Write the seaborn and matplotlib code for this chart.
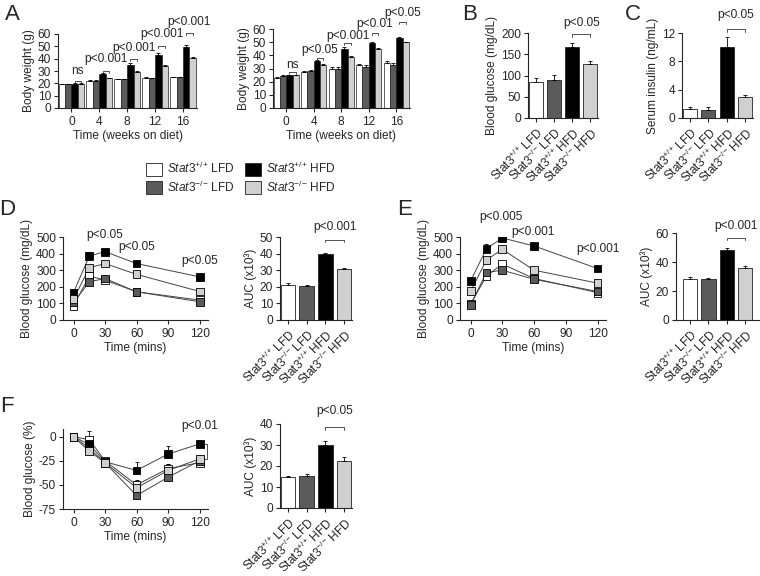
import numpy as np
import pandas as pd
import matplotlib
matplotlib.use('Agg')
import matplotlib.pyplot as plt
from matplotlib.patches import Patch
import seaborn as sns

# groups / colours
groups = ['LFD_wt', 'LFD_ko', 'HFD_wt', 'HFD_ko']
colors = ['white', '#5b5b5b', 'black', '#d0d0d0']
tick_labels = [r'Stat3$^{+/{+}}$ LFD', r'Stat3$^{-/{-}}$ LFD',
               r'Stat3$^{+/{+}}$ HFD', r'Stat3$^{-/{-}}$ HFD']
legend_labels = [r'$\mathit{Stat3}^{+/{+}}$ LFD', r'$\mathit{Stat3}^{-/{-}}$ LFD',
                 r'$\mathit{Stat3}^{+/{+}}$ HFD', r'$\mathit{Stat3}^{-/{-}}$ HFD']

# A: body weight (left and right)
weeks = [0, 4, 8, 12, 16]
a1_vals = [[19.5, 22.0, 23.5, 24.5, 25.0],
           [19.3, 22.0, 23.3, 24.0, 24.8],
           [19.8, 27.5, 35.0, 43.0, 49.5],
           [19.6, 24.0, 29.0, 34.0, 40.5]]
a1_errs = [[0.3, 0.4, 0.3, 0.4, 0.4],
           [0.3, 0.3, 0.3, 0.3, 0.3],
           [0.4, 0.8, 1.3, 1.2, 1.5],
           [0.3, 0.5, 0.6, 0.7, 0.7]]
a1_pvals = ['ns', 'p<0.001', 'p<0.001', 'p<0.001', 'p<0.001']
a1_bracket = [22, 30, 40, 50, 61]
a1_text = [30, 40, 49, 60, 70]

a2_vals = [[23.0, 27.0, 30.0, 32.5, 34.0],
           [24.5, 28.0, 30.0, 31.5, 33.0],
           [24.8, 36.0, 45.0, 49.5, 53.5],
           [25.0, 33.0, 38.5, 45.0, 50.0]]
a2_errs = [[0.5, 1.2, 1.2, 1.2, 1.5],
           [0.5, 1.0, 1.0, 1.0, 1.0],
           [0.5, 0.7, 1.2, 1.0, 0.6],
           [0.4, 0.5, 0.7, 0.5, 0.4]]
a2_pvals = ['ns', 'p<0.05', 'p<0.001', 'p<0.01', 'p<0.05']
a2_bracket = [27, 38, 49, 57, 65]
a2_text = [33, 44, 55, 64, 72.5]

# B, C
b_vals = [85, 90, 168, 126]
b_errs = [10, 12, 8, 7]
c_vals = [1.3, 1.2, 10.0, 3.0]
c_errs = [0.2, 0.3, 1.5, 0.3]

# D: GTT
times = [0, 15, 30, 60, 120]
d_vals = [[85, 265, 240, 170, 120],
          [105, 230, 250, 170, 110],
          [165, 385, 412, 340, 260],
          [125, 315, 340, 275, 172]]
d_errs = [[8, 15, 10, 10, 8], [8, 10, 10, 8, 6],
          [15, 25, 12, 12, 12], [10, 15, 12, 12, 10]]
d_auc = [21, 20.5, 39.5, 31]
d_auc_err = [1.2, 0.8, 1.0, 0.4]

# E: GTT
e_vals = [[95, 265, 337, 250, 165],
          [92, 286, 300, 245, 172],
          [235, 430, 494, 446, 310],
          [173, 361, 426, 300, 222]]
e_errs = [[8, 12, 12, 10, 8], [8, 12, 10, 8, 8],
          [12, 25, 12, 10, 15], [10, 15, 12, 10, 10]]
e_auc = [28.5, 28, 48.5, 36]
e_auc_err = [1.0, 1.2, 1.0, 1.5]

# F: ITT
f_times = [0, 15, 30, 60, 90, 120]
f_vals = [[0, -3, -25, -50, -33, -27],
          [0, -12, -27, -61, -42, -25],
          [0, -8, -26, -35, -18, -7.5],
          [0, -15, -27, -53, -35, -23]]
f_errs = [[0, 9, 2, 4, 5, 4],
          [0, 2, 2, 3, 3, 3],
          [0, 2, 2, 9, 8, 1],
          [0, 3, 3, 8, 7, 4]]
f_auc = [15, 15.3, 30, 22.5]
f_auc_err = [0.3, 0.7, 2.0, 2.0]

FS = 8.6

sns.set_theme(style='ticks')
plt.rcParams['font.family'] = ['Liberation Sans', 'DejaVu Sans']
plt.rcParams['mathtext.fontset'] = 'custom'
plt.rcParams['mathtext.rm'] = 'Liberation Sans'
plt.rcParams['mathtext.it'] = 'Liberation Sans:italic'
plt.rcParams['axes.unicode_minus'] = False
plt.rcParams['font.size'] = FS
plt.rcParams['axes.labelsize'] = FS
plt.rcParams['xtick.labelsize'] = FS
plt.rcParams['ytick.labelsize'] = FS
plt.rcParams['axes.linewidth'] = 0.8
plt.rcParams['xtick.major.width'] = 0.8
plt.rcParams['ytick.major.width'] = 0.8
plt.rcParams['xtick.major.size'] = 3
plt.rcParams['ytick.major.size'] = 3
plt.rcParams['xtick.major.pad'] = 2.5
plt.rcParams['ytick.major.pad'] = 2
plt.rcParams['axes.labelpad'] = 2

W, H = 760, 576
fig = plt.figure(figsize=(W / 100, H / 100), dpi=100)


def box(l, t, r, b):
    return fig.add_axes([l / W, 1 - b / H, (r - l) / W, (b - t) / H])


def up_err(ax, xs, ys, e):
    ax.errorbar(xs, ys, yerr=[np.zeros(len(e)), e], fmt='none', ecolor='black',
                elinewidth=0.6, capsize=1.6, capthick=0.6, zorder=2)


def bracket(ax, x1, x2, y, leg, ty, txt):
    ax.plot([x1, x1, x2, x2], [y - leg, y, y, y - leg], color='#333333', lw=0.6, clip_on=False)
    ax.text((x1 + x2) / 2, ty, txt, ha='center', va='center', fontsize=FS, clip_on=False)


def grouped(ax, vals, errs, pvals, by, ty):
    rows = []
    for g, v in zip(groups, vals):
        for w, y in zip(weeks, v):
            rows.append((str(w), g, y))
    df = pd.DataFrame(rows, columns=['week', 'group', 'value'])
    sns.barplot(data=df, x='week', y='value', hue='group', hue_order=groups, palette=colors,
                width=0.92, edgecolor='#222222', linewidth=0.5, errorbar=None, legend=False, ax=ax)
    for cont, e in zip(ax.containers, errs):
        xs = [p.get_x() + p.get_width() / 2 for p in cont]
        ys = [p.get_height() for p in cont]
        up_err(ax, xs, ys, e)
    for i, txt in enumerate(pvals):
        p3 = ax.containers[2][i]
        p4 = ax.containers[3][i]
        bracket(ax, p3.get_x() + p3.get_width() / 2, p4.get_x() + p4.get_width() / 2,
                by[i], 1.5, ty[i], txt)
    ax.set_ylim(0, 60)
    ax.set_yticks(range(0, 61, 10))
    ax.set_xlim(-0.48, 4.5)
    ax.set_xlabel('Time (weeks on diet)')
    ax.set_ylabel('Body weight (g)')
    sns.despine(ax=ax)


def four(ax, vals, errs, ylim, yticks, ylabel, by, leg, ty, txt, xlim=(-0.42, 3.42)):
    df = pd.DataFrame({'group': groups, 'value': vals})
    sns.barplot(data=df, x='group', y='value', hue='group', order=groups, hue_order=groups,
                palette=colors, width=0.78, edgecolor='#222222', linewidth=0.6,
                errorbar=None, legend=False, ax=ax)
    bars = [c[0] for c in ax.containers]
    xs = [p.get_x() + p.get_width() / 2 for p in bars]
    up_err(ax, xs, [p.get_height() for p in bars], errs)
    bracket(ax, xs[2], xs[3], by, leg, ty, txt)
    ax.set_ylim(*ylim)
    ax.set_yticks(yticks)
    ax.set_xlim(*xlim)
    ax.set_xticks(range(4))
    ax.set_xticklabels(tick_labels, rotation=45, ha='right', rotation_mode='anchor')
    ax.set_xlabel('')
    ax.set_ylabel(ylabel)
    sns.despine(ax=ax)


def curve(ax, tt, vals, errs, ylim, yticks, ylabel):
    rows = []
    for g, v in zip(groups, vals):
        for t, y in zip(tt, v):
            rows.append((t, g, y))
    df = pd.DataFrame(rows, columns=['time', 'group', 'value'])
    for v, e in zip(vals, errs):
        up_err(ax, tt, v, e)
    sns.lineplot(data=df, x='time', y='value', units='group', estimator=None,
                 color='#444444', lw=0.7, ax=ax)
    sns.scatterplot(data=df, x='time', y='value', hue='group', hue_order=groups, palette=colors,
                    marker='s', s=32, edgecolor='black', linewidth=0.6, legend=False,
                    zorder=3, ax=ax)
    ax.set_xlim(-10, 128)
    ax.set_xticks([0, 30, 60, 90, 120])
    ax.set_ylim(*ylim)
    ax.set_yticks(yticks)
    ax.set_xlabel('Time (mins)')
    ax.set_ylabel(ylabel)
    sns.despine(ax=ax)


# Panel A
ax = box(58, 34, 197, 108)
grouped(ax, a1_vals, a1_errs, a1_pvals, a1_bracket, a1_text)
ax = box(273, 29, 410, 108)
grouped(ax, a2_vals, a2_errs, a2_pvals, a2_bracket, a2_text)

# Panel B, C
ax = box(528, 33, 598, 118)
four(ax, b_vals, b_errs, (0, 200), range(0, 201, 50), 'Blood glucose (mg/dL)',
     197, 6, 224, 'p<0.05')
ax = box(682, 33, 753, 118)
four(ax, c_vals, c_errs, (0, 12), [0, 4, 8, 12], 'Serum insulin (ng/mL)',
     12.6, 0.4, 14.6, 'p<0.05')

# Panel D
ax = box(63, 237, 208, 320)
curve(ax, times, d_vals, d_errs, (0, 500), range(0, 501, 100), 'Blood glucose (mg/dL)')
for x, y in zip([30, 60, 120], [515, 442, 357]):
    ax.text(x, y, 'p<0.05', ha='center', va='center', fontsize=FS, clip_on=False)
ax = box(280, 237, 352, 320)
four(ax, d_auc, d_auc_err, (0, 50), range(0, 51, 10), 'AUC (x10³)',
     48, 1.2, 56, 'p<0.001')

# Panel E
ax = box(460, 237, 606, 320)
curve(ax, times, e_vals, e_errs, (0, 500), range(0, 501, 100), 'Blood glucose (mg/dL)')
for x, y, s in zip([29, 59, 120], [618, 533, 430], ['p<0.005', 'p<0.001', 'p<0.001']):
    ax.text(x, y, s, ha='center', va='center', fontsize=FS, clip_on=False)
ax = box(676, 233, 760, 320)
four(ax, e_auc, e_auc_err, (0, 60), [0, 20, 40, 60], 'AUC (x10³)',
     56.5, 1.5, 65, 'p<0.001', xlim=(-0.77, 3.82))

# Panel F
ax = box(63, 429, 208, 509)
curve(ax, f_times, f_vals, f_errs, (-75, 8), [0, -25, -50, -75], 'Blood glucose (%)')
ax.plot([124, 127, 127, 124], [f_vals[2][-1], f_vals[2][-1], f_vals[3][-1], f_vals[3][-1]],
        color='#333333', lw=0.6, clip_on=False)
ax.text(120, 11, 'p<0.01', ha='center', va='center', fontsize=FS, clip_on=False)
ax = box(280, 424, 352, 508)
four(ax, f_auc, f_auc_err, (0, 40), range(0, 41, 10), 'AUC (x10³)',
     38.5, 1.2, 46, 'p<0.05')

# legend
handles = [Patch(facecolor=c, edgecolor='#222222', linewidth=0.6) for c in colors]
fig.legend(handles, legend_labels, ncol=2, loc='upper left',
           bbox_to_anchor=(146 / W, 1 - 161 / H), frameon=False, fontsize=FS,
           handlelength=1.3, handleheight=1.3, handletextpad=0.45,
           columnspacing=0.9, labelspacing=0.3, borderpad=0, borderaxespad=0)

# panel letters
for letter, x, y in [('A', 12, 15), ('B', 470, 15), ('C', 633, 15),
                     ('D', 7, 210), ('E', 405, 210), ('F', 7, 407)]:
    fig.text(x / W, 1 - y / H, letter, fontsize=16, ha='center', va='center')

fig.savefig('out.png', dpi=100)
